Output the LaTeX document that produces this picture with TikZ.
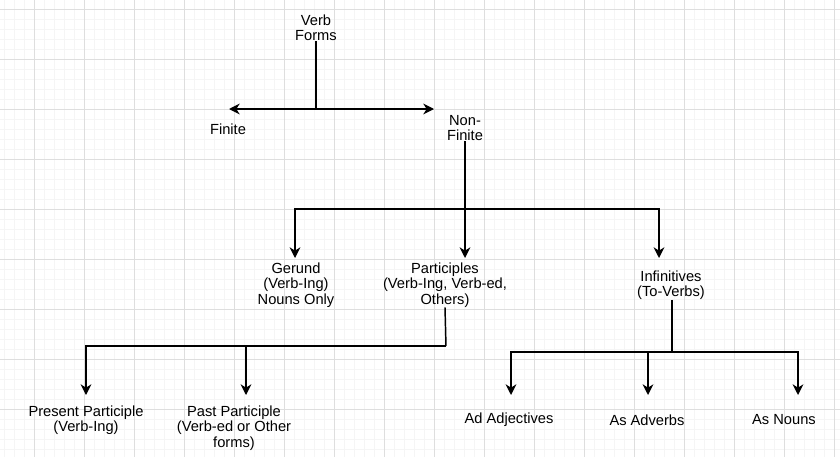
\documentclass[tikz,border=0pt]{standalone}
\usepackage{fontspec}
\setmainfont{Liberation Sans}
\usetikzlibrary{arrows.meta}
\begin{document}
\begin{tikzpicture}[x=0.75pt,y=-0.75pt,
  lbl/.style={align=center,font=\fontsize{11}{11.5}\selectfont,inner sep=0pt},
  con/.style={line width=1.1pt,black},
  arr/.style={con,-{Stealth[length=8pt,width=8pt,inset=2.5pt]}}]
\useasboundingbox (0,0) rectangle (840,457);
\fill[white] (0,0) rectangle (840,457);
\foreach \x in {4.7,14.7,...,840} \draw[black!4,line width=0.5pt] (\x,0) -- (\x,457);
\foreach \y in {-1,9,...,457} \draw[black!4,line width=0.5pt] (0,\y) -- (840,\y);
\foreach \x in {34.7,84.7,...,840} \draw[black!13,line width=0.6pt] (\x,0) -- (\x,457);
\foreach \y in {9,59,...,457} \draw[black!13,line width=0.6pt] (0,\y) -- (840,\y);

\node[lbl] (vf) at (316,28) {Verb\\Forms};
\node[lbl] (fin) at (228,129) {Finite};
\node[lbl] (nf) at (465,128) {Non-\\Finite};
\node[lbl] (ger) at (296,285) {Gerund\\(Verb-Ing)\\Nouns Only};
\node[lbl] (par) at (445,285) {Participles\\(Verb-Ing, Verb-ed,\\Others)};
\node[lbl] (inf) at (671,285) {Infinitives\\(To-Verbs)};
\node[lbl] (pp) at (86,420) {Present Participle\\(Verb-Ing)};
\node[lbl] (pap) at (234,428) {Past Participle\\(Verb-ed or Other\\forms)};
\node[lbl] (adj) at (509,420) {Ad Adjectives};
\node[lbl] (adv) at (647,420) {As Adverbs};
\node[lbl] (nou) at (784,420) {As Nouns};

\coordinate (j1) at (316,109);
\coordinate (fa) at (229,109);
\coordinate (na) at (434,109);
\draw[con] (vf.south) -- (j1);
\draw[arr] (j1) -- (fa);
\draw[arr] (j1) -- (na);

\coordinate (j2) at (465,209);
\draw[con] (nf.south) -- (j2);
\coordinate (ga) at (295,258);
\coordinate (pa) at (465,258);
\coordinate (ia) at (659,258);
\draw[arr] (j2) -| (ga);
\draw[arr] (j2) -- (pa);
\draw[arr] (j2) -| (ia);

\coordinate (j3) at (446,346);
\draw[con] (par.south) -- (j3);
\coordinate (ppa) at (86,395);
\coordinate (papa) at (246,395);
\draw[arr] (j3) -| (ppa);
\draw[arr] (j3) -| (papa);

\coordinate (j4) at (672,352);
\draw[con] (inf.south -| j4) -- (j4);
\coordinate (aa) at (511,395);
\coordinate (ba) at (648,395);
\coordinate (ca) at (798,395);
\draw[arr] (j4) -| (aa);
\draw[arr] (j4) -| (ba);
\draw[arr] (j4) -| (ca);
\end{tikzpicture}
\end{document}
